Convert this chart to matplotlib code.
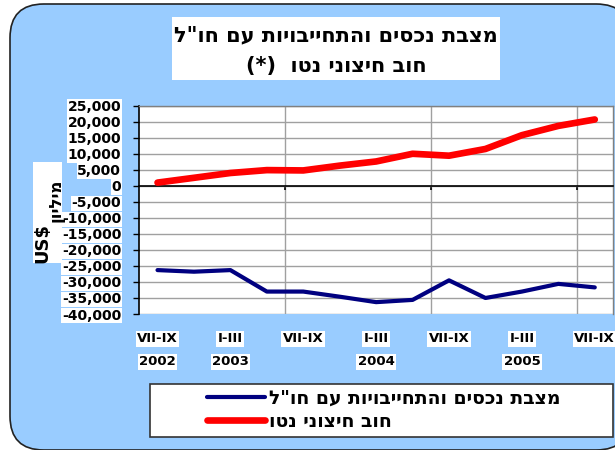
import matplotlib
matplotlib.use('Agg')
import matplotlib.pyplot as plt
import matplotlib.transforms as mtransforms
from matplotlib.patches import FancyBboxPatch, Rectangle
from matplotlib.ticker import MultipleLocator, FuncFormatter

# ---- data ----
quarters = ['VII-IX', 'X-XII', 'I-III', 'IV-VI', 'VII-IX', 'X-XII', 'I-III',
            'IV-VI', 'VII-IX', 'X-XII', 'I-III', 'IV-VI', 'VII-IX']
years = ['2002', '2002', '2003', '2003', '2003', '2003', '2004',
         '2004', '2004', '2004', '2005', '2005', '2005']
net_position = [-26300, -26800, -26300, -33000, -33000, -34600, -36300,
                -35600, -29500, -35000, -33000, -30600, -31700]
net_external_debt = [1000, 2500, 4000, 4900, 4800, 6300, 7600,
                     10000, 9400, 11500, 15800, 18700, 20700]

title_line1 = 'מצבת נכסים והתחייבויות עם חו"ל'
title_line2 = 'חוב חיצוני נטו'
series_names = ['מצבת נכסים והתחייבויות עם חו"ל', 'חוב חיצוני נטו']
y_label_heb = 'מיליון'
y_label_cur = 'US$'


def visual(s):
    return s[::-1]


W, H = 615, 450
fig = plt.figure(figsize=(W / 100, H / 100), dpi=100)
fig.patch.set_facecolor('white')

HEB = ['DejaVu Sans']


def px(x, y):
    """figure pixel (from top-left) -> figure fraction"""
    return x / W, 1 - y / H


# rounded light-blue chart area
bg = FancyBboxPatch((10 / W, 0.0 / H), 620 / W, 446 / H,
                    boxstyle='round,pad=0,rounding_size=0.055',
                    transform=fig.transFigure, facecolor='#99CCFF',
                    edgecolor='#222222', linewidth=1.2, zorder=-5,
                    mutation_aspect=W / H)
fig.patches.append(bg)

# plot area
left, top = px(139.3, 105.7)
right, bottom = px(613, 314)
ax = fig.add_axes([left, bottom, right - left, top - bottom])
ax.set_zorder(2)
ax.set_facecolor('white')

x = list(range(len(quarters)))
ln_pos, = ax.plot(x, net_position, color='#000080', lw=3.0,
                  solid_capstyle='round', solid_joinstyle='round', zorder=5)
ln_debt, = ax.plot(x, net_external_debt, color='#FF0000', lw=4.8,
                   solid_capstyle='round', solid_joinstyle='round', zorder=5)

ax.set_xlim(-0.5, len(quarters) - 0.5)
ax.set_ylim(-40000, 25000)
ax.yaxis.set_major_locator(MultipleLocator(5000))
ax.yaxis.set_major_formatter(FuncFormatter(lambda v, p: f'{int(v):,}'))
ax.grid(axis='y', color='#A0A0A0', lw=1.0, zorder=1)

# vertical gridlines between category groups
ax.set_xticks([3.5, 7.5, 11.5])
ax.set_xticklabels([])
ax.grid(axis='x', color='#A0A0A0', lw=1.0, zorder=1)
ax.tick_params(axis='x', direction='out', length=3, width=1.2, color='black')

ax.spines['bottom'].set_position(('data', 0))
ax.spines['bottom'].set_color('black')
ax.spines['bottom'].set_linewidth(1.2)
ax.spines['bottom'].set_zorder(4)
ax.spines['left'].set_color('black')
ax.spines['left'].set_linewidth(1.2)
for s in ('top', 'right'):
    ax.spines[s].set_color('#808080')
    ax.spines[s].set_linewidth(1.0)

ax.tick_params(axis='y', direction='out', length=4, width=1.0,
               color='black', pad=9)
for lab in ax.get_yticklabels():
    lab.set_fontfamily('DejaVu Sans')
    lab.set_fontweight('bold')
    lab.set_fontsize(10)
    lab.set_bbox(dict(facecolor='white', edgecolor='none', pad=0.6))

# category labels below the plot area
trans = mtransforms.blended_transform_factory(ax.transData, ax.transAxes)
for i, (q, yr) in enumerate(zip(quarters, years)):
    if i % 2 == 0:
        ax.text(i, -0.12, q, transform=trans, ha='center', va='center',
                fontsize=9.5, fontweight='bold', family='DejaVu Sans',
                bbox=dict(facecolor='white', edgecolor='none', pad=1.0),
                clip_on=False)
    if i == 0 or (q == 'I-III' and i % 2 == 0):
        ax.text(i, -0.23, yr, transform=trans, ha='center', va='center',
                fontsize=9.5, fontweight='bold', family='DejaVu Sans',
                bbox=dict(facecolor='white', edgecolor='none', pad=1.0),
                clip_on=False)

# title box
tx0, ty1 = px(172, 17)
tx1, ty0 = px(500, 80)
fig.patches.append(Rectangle((tx0, ty0), tx1 - tx0, ty1 - ty0,
                             transform=fig.transFigure, facecolor='white',
                             edgecolor='none', zorder=1))
fig.text(*px(336, 35), visual(title_line1), ha='center', va='center',
         fontsize=15, fontweight='bold', family=HEB, zorder=3)
fig.text(*px(336, 66), '(*)  ' + visual(title_line2), ha='center',
         va='center', fontsize=15, fontweight='bold', family=HEB, zorder=3)

# y-axis title (drawn above the tick labels, as in the original)
yx0, yy1 = px(33, 162)
yx1, yy0 = px(62, 263)
fig.patches.append(Rectangle((yx0, yy0), yx1 - yx0, yy1 - yy0,
                             transform=fig.transFigure, facecolor='white',
                             edgecolor='none', zorder=5))
fig.text(*px(42, 243), y_label_cur, rotation=90, ha='center', va='center',
         fontsize=13, fontweight='bold', family='DejaVu Sans', zorder=6)
fig.text(*px(56, 200), visual(y_label_heb), rotation=90, ha='center',
         va='center', fontsize=12, fontweight='bold', family=HEB, zorder=6)

# legend box
lx0, ly1 = px(150, 384)
lx1, ly0 = px(613, 437)
fig.patches.append(Rectangle((lx0, ly0), lx1 - lx0, ly1 - ly0,
                             transform=fig.transFigure, facecolor='white',
                             edgecolor='#333333', linewidth=1.2, zorder=1))
leg = fig.legend([ln_pos, ln_debt], [visual(n) for n in series_names],
                 loc='upper left', bbox_to_anchor=px(207, 389),
                 frameon=False, prop={'family': HEB, 'weight': 'bold',
                                      'size': 13.5},
                 handlelength=3.1, handletextpad=0.2, borderpad=0,
                 borderaxespad=0, labelspacing=0.2)
leg.set_zorder(3)

fig.savefig('out.png', dpi=100, facecolor='white')
